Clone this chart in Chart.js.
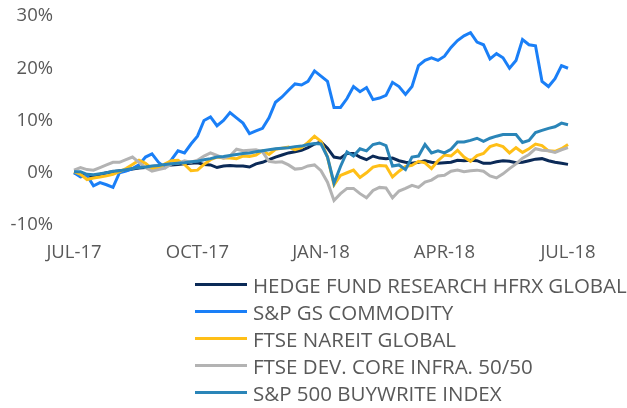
<!DOCTYPE html>
<html>
<head>
<meta charset="utf-8">
<script src="https://cdn.jsdelivr.net/npm/chart.js@4.4.1/dist/chart.umd.min.js"></script>
<style>
  html, body { margin: 0; padding: 0; background: #fff; }
  #wrap { position: relative; width: 627px; height: 408px; }
  #legend { position: absolute; left: 195px; top: 271px; font-family: "Open Sans", sans-serif; font-size: 20.5px; color: #595959; }
  #legend .row { display: flex; align-items: center; height: 27px; white-space: nowrap; }
  #legend .swatch { width: 52px; height: 3px; margin-right: 6px; }
</style>
</head>
<body>
<div id="wrap">
  <canvas id="chart" width="627" height="408"></canvas>
  <div id="legend"></div>
</div>
<script>
// cumulative return, %, Jul-17 to Jul-18 (sampled ~every 3 trading days)
const tickLabels = ["JUL-17", "OCT-17", "JAN-18", "APR-18", "JUL-18"];
const yTicks = [-10, 0, 10, 20, 30];

const seriesNames = [
  "HEDGE FUND RESEARCH HFRX GLOBAL",
  "S&P GS COMMODITY",
  "FTSE NAREIT GLOBAL",
  "FTSE DEV. CORE INFRA. 50/50",
  "S&P 500 BUYWRITE INDEX"
];
const seriesColors = ["#0b2a57", "#1a7ff7", "#ffbf17", "#b3b3b3", "#2a85b8"];

const hfrx = [0.0,-0.3,-0.5,-0.8,-0.3,0.0,0.2,0.4,0.5,0.7,0.9,1.0,1.2,1.3,1.4,1.5,1.6,1.7,1.8,1.9,
  1.6,1.5,1.0,1.3,1.4,1.3,1.3,1.1,1.7,2.0,2.5,3.0,3.4,3.8,4.0,4.3,4.8,5.5,5.9,4.7,
  3.0,2.8,3.7,3.7,3.0,2.5,3.2,2.8,2.7,2.8,2.3,2.0,1.8,2.0,2.3,2.0,1.8,1.9,2.0,2.4,
  2.3,2.4,2.3,1.8,1.8,2.1,2.3,2.2,1.9,2.0,2.3,2.6,2.7,2.3,2.0,1.8,1.6];

const gsci = [0.0,-0.8,-0.5,-2.5,-1.9,-2.3,-2.8,0.0,0.3,0.8,1.5,3.0,3.6,2.0,1.0,2.5,4.2,3.8,5.5,7.0,
  10.0,10.7,9.0,10.0,11.5,10.5,9.5,7.5,8.0,8.5,10.5,13.5,14.5,15.8,17.0,16.8,17.5,19.5,18.5,17.5,
  12.5,12.5,14.2,16.5,15.5,16.3,14.0,14.3,14.8,17.3,16.5,15.0,16.5,20.5,21.5,22.0,21.5,22.3,24.0,25.3,
  26.2,26.8,25.0,24.5,21.8,22.8,22.0,20.0,21.5,25.5,24.5,24.3,17.5,16.5,18.0,20.5,20.0];

const nareit = [0.2,-0.3,-1.3,-1.0,-0.8,-0.6,-0.3,0.2,0.8,1.6,2.4,1.8,0.8,0.9,1.7,2.3,2.4,1.6,0.4,0.5,
  1.6,2.5,3.0,2.8,2.8,2.7,3.2,3.1,3.4,4.2,3.5,4.5,4.7,4.9,4.4,4.8,5.8,7.0,6.0,3.0,
  -2.3,-0.5,0.0,0.5,-0.9,0.0,1.1,1.4,1.3,-0.8,0.3,1.2,1.4,2.2,1.9,0.8,2.3,3.4,3.2,4.3,
  3.0,2.2,3.3,3.7,5.0,5.4,5.0,3.8,4.8,3.9,4.6,5.5,5.2,4.2,4.1,4.6,5.4];

const infra = [0.5,1.0,0.6,0.5,1.0,1.5,2.0,2.0,2.5,3.0,2.0,1.0,0.3,0.6,0.9,1.7,1.8,2.3,2.0,2.4,
  3.2,3.8,3.3,2.8,3.2,4.5,4.2,4.3,4.4,4.0,2.2,2.0,2.1,1.5,0.7,0.8,1.3,1.5,0.4,-1.8,
  -5.3,-4.0,-3.0,-3.0,-4.0,-4.8,-3.4,-2.8,-2.9,-4.8,-3.5,-3.0,-2.4,-2.8,-1.8,-1.4,-0.6,-0.5,0.3,0.5,
  0.2,0.4,0.5,0.3,-0.6,-1.0,-0.2,0.8,1.7,2.8,3.5,4.6,4.3,4.2,3.9,4.4,4.8];

const buywrite = [0.2,0.2,-0.3,-0.4,-0.2,0.0,0.3,0.4,0.6,0.8,1.0,1.1,1.3,1.4,1.6,1.7,1.8,1.9,2.1,2.2,
  2.5,2.7,3.0,3.1,3.3,3.5,3.7,3.8,4.0,4.2,4.4,4.6,4.7,4.8,5.0,5.1,5.4,5.6,5.5,3.0,
  -2.0,1.2,4.0,3.2,4.6,4.2,5.4,5.7,5.2,1.3,1.5,0.6,3.0,3.2,5.4,3.8,4.2,3.8,4.5,5.9,
  5.9,6.2,6.6,6.0,6.6,7.0,7.3,7.3,7.3,5.8,6.2,7.7,8.1,8.5,8.8,9.5,9.2];

const allSeries = [hfrx, gsci, nareit, infra, buywrite];

// one category per sample, only quarter starts get a label
const labels = gsci.map((v, i) => (i % 19 === 0 ? tickLabels[i / 19] : ""));

const tickFont = { family: "'Open Sans', sans-serif", size: 18.5 };

const chart = new Chart(document.getElementById("chart"), {
  type: "line",
  data: {
    labels: labels,
    datasets: allSeries.map((d, i) => ({
      label: seriesNames[i],
      data: d,
      borderColor: seriesColors[i],
      borderWidth: 3,
      pointRadius: 0,
      tension: 0,
      fill: false,
      order: allSeries.length - i   // later series drawn on top
    }))
  },
  options: {
    responsive: false,
    animation: false,
    devicePixelRatio: 1,
    layout: { padding: { top: 16, right: 59, bottom: 143, left: 0 } },
    plugins: { legend: { display: false }, tooltip: { enabled: false } },
    scales: {
      x: {
        afterFit: (s) => { s.height = 40; s.paddingLeft = 0; s.paddingRight = 0; },
        grid: { display: false, drawTicks: false },
        border: { display: false },
        ticks: {
          autoSkip: false, maxRotation: 0, minRotation: 0,
          padding: 17, color: "#595959", font: tickFont
        }
      },
      y: {
        min: yTicks[0],
        max: yTicks[yTicks.length - 1],
        afterFit: (s) => { s.width = 74; s.paddingTop = 0; s.paddingBottom = 0; },
        afterBuildTicks: (s) => { s.ticks = yTicks.map(v => ({ value: v })); },
        grid: { display: false, drawTicks: false },
        border: { display: false },
        ticks: {
          padding: 21, color: "#595959", font: tickFont,
          callback: (v) => v + "%"
        }
      }
    }
  }
});

// legend: one entry per row
const legendEl = document.getElementById("legend");
chart.data.datasets.forEach((ds) => {
  const row = document.createElement("div");
  row.className = "row";
  const sw = document.createElement("span");
  sw.className = "swatch";
  sw.style.background = ds.borderColor;
  const txt = document.createElement("span");
  txt.textContent = ds.label;
  row.appendChild(sw);
  row.appendChild(txt);
  legendEl.appendChild(row);
});
</script>
</body>
</html>
